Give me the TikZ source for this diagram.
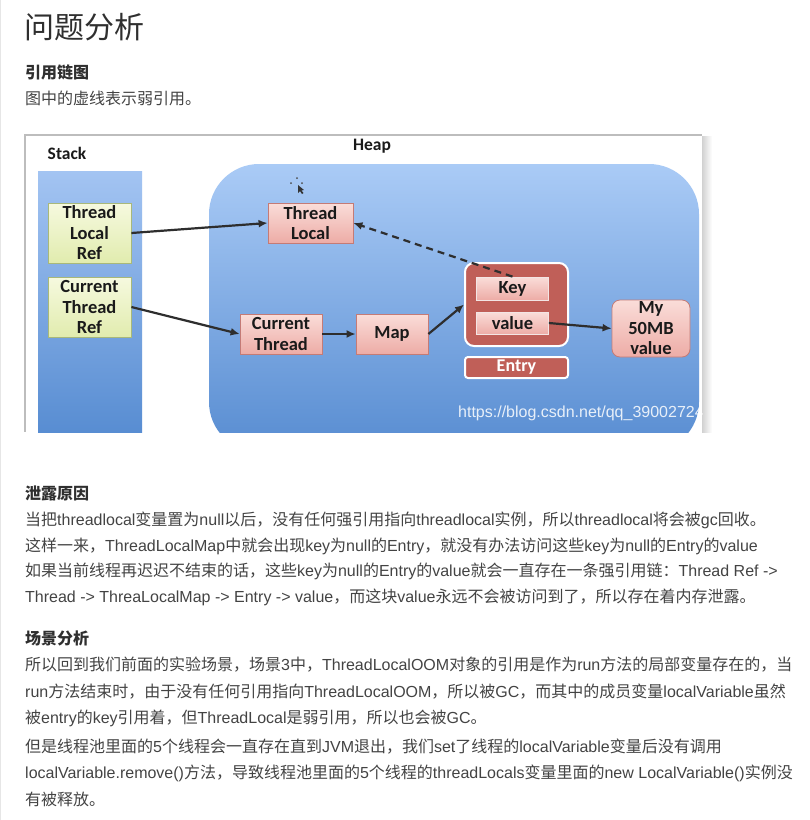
\documentclass[tikz,border=0pt]{standalone}
\usepackage{fontspec}
\setmainfont{Noto Sans CJK SC}
\newfontfamily\diagfont{Carlito}
\newfontfamily\urlfont{Liberation Sans}
\newfontfamily\latfont{Liberation Sans}
\newcommand\lat[1]{{\latfont\fontsize{16}{16}\selectfont #1}}
\usetikzlibrary{arrows.meta,positioning}

\definecolor{headtext}{HTML}{2F2F2F}
\definecolor{bodytext}{HTML}{434343}
\definecolor{pageline}{HTML}{E6E6E6}
\definecolor{framegray}{HTML}{BDBDBD}
\definecolor{stacktop}{HTML}{A3C4F2}
\definecolor{stackbot}{HTML}{588DD2}
\definecolor{heaptop}{HTML}{AACBF6}
\definecolor{heapbot}{HTML}{578CD1}
\definecolor{reftop}{HTML}{F6F9DF}
\definecolor{refbot}{HTML}{E1ECAE}
\definecolor{refborder}{HTML}{A8B87A}
\definecolor{objtop}{HTML}{FADDD9}
\definecolor{objbot}{HTML}{EDACA6}
\definecolor{objborder}{HTML}{C47B76}
\definecolor{entryred}{HTML}{C05F58}
\definecolor{arrowgray}{HTML}{2E2E2E}
\definecolor{diagtext}{HTML}{1A1A1A}

\begin{document}
\begin{tikzpicture}[x=1pt,y=-1pt,
  bodyline/.style={anchor=west,inner sep=0pt,text=bodytext,font=\fontsize{16}{16}\selectfont},
  subhead/.style={anchor=west,inner sep=0pt,text=headtext,font=\bfseries\fontsize{16}{16}\selectfont},
  refbox/.style={draw=refborder,line width=0.8pt,top color=reftop,bottom color=refbot,
    minimum width=83pt,minimum height=60pt,inner sep=0pt,align=center,
    font=\diagfont\bfseries\fontsize{18.5}{20.5}\selectfont,text=diagtext},
  objbox/.style={draw=objborder,line width=0.8pt,top color=objtop,bottom color=objbot,
    minimum height=40pt,inner sep=0pt,align=center,
    font=\diagfont\bfseries\fontsize{18.5}{20.5}\selectfont,text=diagtext},
  slotbox/.style={objbox,minimum width=72pt,minimum height=23pt,draw=white!80!objborder},
  strongref/.style={draw=arrowgray,line width=2.2pt,-{Latex[length=9pt,width=8pt]}},
  weakref/.style={strongref,dash pattern=on 7pt off 5pt}
]

\useasboundingbox (0,0) rectangle (810,820);
\draw[pageline,line width=1pt] (0.5,0) -- (0.5,820);

% page text
\node[anchor=west,inner sep=0pt,text=headtext,font=\fontsize{30}{30}\selectfont] (title) at (24,27) {问题分析};
\node[subhead] (chainhead) at (25,72) {引用链图};
\node[bodyline] (chainnote) at (25,98) {图中的虚线表示弱引用。};

% picture frame
\fill[framegray] (24,134) rectangle (702,136);
\fill[framegray] (24,134) rectangle (26,432);
\fill[white] (26,136) rectangle (702,432);
\shade[left color=black!18,right color=white] (702,136) rectangle (712,432);

\begin{scope}
\clip (26,136) rectangle (702,432);
\shade[top color=stacktop,bottom color=stackbot] (38,171) rectangle (142,432);
\shade[top color=heaptop,bottom color=heapbot,rounded corners=50pt] (209,164) rectangle (699,452);
\node[anchor=west,text=white,opacity=0.85,inner sep=0pt,font=\urlfont\fontsize{16}{16}\selectfont] (mark) at (458,413) {https://blog.csdn.net/qq\_39002724};
\end{scope}

\node[font=\diagfont\bfseries\fontsize{17.5}{17.5}\selectfont,text=diagtext] (stack) at (67,153) {Stack};
\node[font=\diagfont\bfseries\fontsize{17.5}{17.5}\selectfont,text=diagtext] (heap) at (372,146) {Heap};

% stray cursor
\fill[black!80] (298,185) -- (298,193) -- (300,191) -- (302,194) -- (303.5,193) -- (301.5,190.5) -- (304,190) -- cycle;
\fill[black!70] (291,183) circle (1pt) (297,178) circle (1pt) (302,183) circle (1pt);

% stack
\node[refbox] (tlref) at (89.5,233) {Thread\\Local\\Ref};
\node[refbox] (ctref) at (89.5,307) {Current\\Thread\\Ref};

% heap
\node[objbox,minimum width=85pt] (tl) at (310.5,223) {Thread\\Local};
\node[objbox,minimum width=82pt] (ct) at (281,334) {Current\\Thread};
\node[objbox,minimum width=72pt] (map) at (392,334) {Map};
\node[draw=white,line width=2pt,fill=entryred,rounded corners=9pt,minimum width=103pt,minimum height=83pt] (entrybox) at (516.5,304.5) {};
\node[slotbox] (key) at (512.5,288.5) {Key};
\node[slotbox,minimum height=22pt] (value) at (512.5,323) {value};
\node[draw=white,line width=2pt,fill=entryred,rounded corners=3pt,minimum width=103pt,minimum height=21pt,inner sep=0pt,
  text=white,font=\diagfont\bfseries\fontsize{18}{18}\selectfont] (entry) at (516.5,367.5) {Entry};
\node[objbox,rounded corners=8pt,minimum width=78pt,minimum height=57pt] (bigval) at (651,328.5) {My\\50MB\\value};

\draw[strongref] (tlref.east) -- (tl.west);
\draw[strongref] (ctref.east) -- (ct.west);
\draw[strongref] (ct.east) -- (map.west);
\draw[strongref] (map.east) -- (entrybox.west);
\draw[strongref] (value.east) -- (bigval.west);
\draw[weakref] (key.north) -- (tl.east);

% leak
\node[subhead] (leakhead) at (25,493) {泄露原因};
\node[bodyline] (leak1) at (25,520) {当把\lat{threadlocal}变量置为\lat{null}以后，没有任何强引用指向\lat{threadlocal}实例，所以\lat{threadlocal}将会被\lat{gc}回收。};
\node[bodyline] (leak2) at (25,546) {这样一来，\lat{ThreadLocalMap}中就会出现\lat{key}为\lat{null}的\lat{Entry}，就没有办法访问这些\lat{key}为\lat{null}的\lat{Entry}的\lat{value}};
\node[bodyline] (leak3) at (25,571) {如果当前线程再迟迟不结束的话，这些\lat{key}为\lat{null}的\lat{Entry}的\lat{value}就会一直存在一条强引用链：\lat{Thread Ref ->}};
\node[bodyline] (leak4) at (25,597) {\lat{Thread -> ThreaLocalMap -> Entry -> value}，而这块\lat{value}永远不会被访问到了，所以存在着内存泄露。};

% scene
\node[subhead] (scenehead) at (25,638) {场景分析};
\node[bodyline] (scene1) at (25,665) {所以回到我们前面的实验场景，场景\lat{3}中，\lat{ThreadLocalOOM}对象的引用是作为\lat{run}方法的局部变量存在的，当};
\node[bodyline] (scene2) at (25,692) {\lat{run}方法结束时，由于没有任何引用指向\lat{ThreadLocalOOM}，所以被\lat{GC}，而其中的成员变量\lat{localVariable}虽然};
\node[bodyline] (scene3) at (25,718) {被\lat{entry}的\lat{key}引用着，但\lat{ThreadLocal}是弱引用，所以也会被\lat{GC}。};
\node[bodyline] (scene4) at (25,747) {但是线程池里面的\lat{5}个线程会一直存在直到\lat{JVM}退出，我们\lat{set}了线程的\lat{localVariable}变量后没有调用};
\node[bodyline] (scene5) at (25,773) {\lat{localVariable.remove()}方法，导致线程池里面的\lat{5}个线程的\lat{threadLocals}变量里面的\lat{new LocalVariable()}实例没};
\node[bodyline] (scene6) at (25,799) {有被释放。};

\end{tikzpicture}
\end{document}
